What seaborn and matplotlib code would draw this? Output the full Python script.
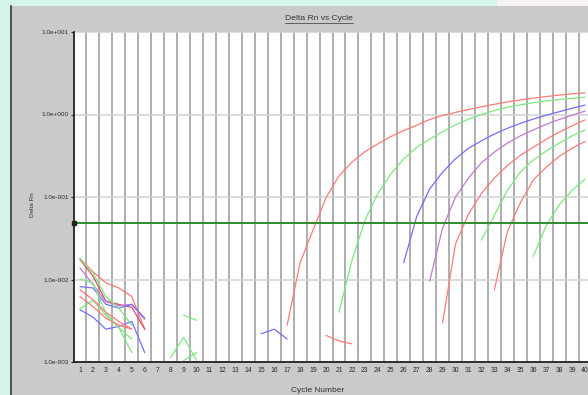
import matplotlib
matplotlib.use("Agg")
import numpy as np
import pandas as pd
import matplotlib.pyplot as plt
import seaborn as sns
from matplotlib.patches import Rectangle
from matplotlib.lines import Line2D

# ---------------- data ----------------
title = "Delta Rn vs Cycle"
x_label = "Cycle Number"
y_label = "Delta Rn"
cycles_axis = list(range(1, 41))
y_ticks = [1e-3, 1e-2, 1e-1, 1e0, 1e1]
y_tick_labels = ["1.0e-003", "1.0e-002", "1.0e-001", "1.0e+000", "1.0e+001"]
threshold = 0.049

# amplification curves
amp_a_cycles = list(range(17, 41))
amp_a = [0.0028, 0.016, 0.040, 0.098, 0.18, 0.265, 0.355, 0.44, 0.54, 0.64, 0.74, 0.87,
         0.97, 1.06, 1.15, 1.24, 1.33, 1.42, 1.50, 1.58, 1.65, 1.72, 1.78, 1.83]
amp_b_cycles = list(range(21, 41))
amp_b = [0.004, 0.017, 0.052, 0.11, 0.19, 0.29, 0.40, 0.50, 0.62, 0.75, 0.88, 1.00,
         1.12, 1.22, 1.31, 1.39, 1.46, 1.52, 1.57, 1.62]
amp_c_cycles = list(range(26, 41))
amp_c = [0.016, 0.058, 0.125, 0.20, 0.29, 0.39, 0.48, 0.58, 0.68, 0.78, 0.88, 0.98,
         1.08, 1.19, 1.30]
amp_d_cycles = list(range(28, 41))
amp_d = [0.0095, 0.042, 0.10, 0.17, 0.26, 0.35, 0.45, 0.55, 0.65, 0.76, 0.87, 0.98, 1.10]
amp_e_cycles = list(range(29, 41))
amp_e = [0.003, 0.027, 0.062, 0.11, 0.17, 0.24, 0.32, 0.40, 0.50, 0.61, 0.73, 0.86]
amp_f_cycles = list(range(32, 41))
amp_f = [0.03, 0.06, 0.12, 0.20, 0.28, 0.36, 0.45, 0.55, 0.65]
amp_g_cycles = list(range(33, 41))
amp_g = [0.0075, 0.038, 0.085, 0.16, 0.23, 0.31, 0.39, 0.47]
amp_h_cycles = list(range(36, 41))
amp_h = [0.019, 0.045, 0.08, 0.12, 0.165]

# baseline noise fragments
noise_1_cycles = [1, 2, 3, 4, 5, 6]
noise_1 = [0.018, 0.0124, 0.0091, 0.0079, 0.0062, 0.0025]
noise_2_cycles = [1, 2, 3, 4, 5, 6]
noise_2 = [0.0175, 0.011, 0.0055, 0.005, 0.0046, 0.0025]
noise_3_cycles = [1, 2, 3, 4, 5, 6]
noise_3 = [0.0138, 0.0087, 0.0054, 0.0048, 0.0050, 0.0033]
noise_4_cycles = [1, 2, 3, 4, 5, 6]
noise_4 = [0.0082, 0.0079, 0.0050, 0.0045, 0.0050, 0.0034]
noise_5_cycles = [1, 2, 3, 4, 5, 6]
noise_5 = [0.0043, 0.0035, 0.0025, 0.0027, 0.0031, 0.0013]
noise_6_cycles = [1, 2, 3, 4, 5]
noise_6 = [0.0044, 0.0056, 0.0037, 0.0026, 0.0019]
noise_7_cycles = [1, 2, 3, 4, 5]
noise_7 = [0.0102, 0.0091, 0.0039, 0.0026, 0.0013]
noise_8_cycles = [1, 2, 3, 4, 5]
noise_8 = [0.018, 0.012, 0.0062, 0.0045, 0.0028]
noise_9_cycles = [1, 2, 3, 4, 5]
noise_9 = [0.0075, 0.0057, 0.0040, 0.0031, 0.0025]
noise_10_cycles = [1, 2, 3, 4, 5]
noise_10 = [0.0062, 0.0047, 0.0034, 0.0028, 0.0025]
noise_11_cycles = [8, 9, 10]
noise_11 = [0.00113, 0.0020, 0.00105]
noise_12_cycles = [9, 10]
noise_12 = [0.0037, 0.0032]
noise_13_cycles = [9, 10]
noise_13 = [0.00104, 0.0013]
noise_14_cycles = [15, 16, 17]
noise_14 = [0.0022, 0.0025, 0.0019]
noise_15_cycles = [20, 21, 22]
noise_15 = [0.0021, 0.0018, 0.00166]

RED, GREEN, BLUE, PURPLE = "#ff7a7a", "#7de87d", "#7070ff", "#c07ad0"
series = [
    ("A", amp_a_cycles, amp_a, RED), ("B", amp_b_cycles, amp_b, GREEN),
    ("C", amp_c_cycles, amp_c, BLUE), ("D", amp_d_cycles, amp_d, PURPLE),
    ("E", amp_e_cycles, amp_e, RED), ("F", amp_f_cycles, amp_f, GREEN),
    ("G", amp_g_cycles, amp_g, RED), ("H", amp_h_cycles, amp_h, GREEN),
    ("n1", noise_1_cycles, noise_1, RED), ("n2", noise_2_cycles, noise_2, "#e0506a"),
    ("n3", noise_3_cycles, noise_3, PURPLE), ("n4", noise_4_cycles, noise_4, BLUE),
    ("n5", noise_5_cycles, noise_5, BLUE), ("n6", noise_6_cycles, noise_6, GREEN),
    ("n7", noise_7_cycles, noise_7, GREEN), ("n8", noise_8_cycles, noise_8, GREEN),
    ("n9", noise_9_cycles, noise_9, RED), ("n10", noise_10_cycles, noise_10, RED),
    ("n11", noise_11_cycles, noise_11, GREEN), ("n12", noise_12_cycles, noise_12, GREEN),
    ("n13", noise_13_cycles, noise_13, GREEN), ("n14", noise_14_cycles, noise_14, BLUE),
    ("n15", noise_15_cycles, noise_15, RED),
]

rows = []
for name, cs, vs, _ in series:
    for c, v in zip(cs, vs):
        rows.append({"well": name, "cycle": c, "rn": v})
df = pd.DataFrame(rows)
palette = {name: col for name, _, _, col in series}

# ---------------- figure ----------------
sns.set_style("white")
plt.rcParams["font.family"] = ["Liberation Sans", "DejaVu Sans"]

W, H = 588, 395
fig = plt.figure(figsize=(W / 100, H / 100), dpi=100)
fig.patch.set_facecolor("#d5f5ea")

# grey panel and border
fig.add_artist(Rectangle((11 / W, 0), 1, 1 - 6 / H, transform=fig.transFigure,
                         facecolor="#cacaca", edgecolor="none", zorder=0))
fig.add_artist(Rectangle((497 / W, 1 - 6 / H), 1, 6 / H, transform=fig.transFigure,
                         facecolor="#f7f3f3", edgecolor="none", zorder=0))
fig.add_artist(Line2D([11 / W, 11 / W], [0, 1 - 6 / H], transform=fig.transFigure,
                      color="#555555", lw=1.5, zorder=1))

ax = fig.add_axes([73.5 / W, (H - 362) / H, (591.5 - 73.5) / W, (362 - 32) / H])
ax.set_facecolor("white")

sns.lineplot(data=df, x="cycle", y="rn", hue="well", palette=palette, units="well",
             estimator=None, sort=False, legend=False, lw=0.9, ax=ax, zorder=3)

ax.axhline(threshold, color="#2e8b2e", lw=1.4, zorder=4)
ax.plot([0.55], [threshold], marker="s", ms=2.2, color="#222222", zorder=5, clip_on=False)

ax.set_yscale("log")
ax.set_xlim(0.5, 40.5)
ax.set_ylim(1e-3, 1e1)
ax.set_yticks(y_ticks)
ax.set_yticklabels(y_tick_labels)
ax.yaxis.set_minor_locator(matplotlib.ticker.NullLocator())
ax.set_xticks(cycles_axis)
ax.set_xticklabels([str(c) for c in cycles_axis])

# grid
for c in cycles_axis[:-1]:
    ax.axvline(c + 0.5, color="#a8a8a8", lw=1.3, zorder=1)
for t in y_ticks:
    ax.axhline(t, color="#d2d2d2", lw=1.1, zorder=1)

ax.tick_params(axis="x", length=0, pad=3.5, labelsize=4.9, colors="#2a2a2a")
ax.tick_params(axis="y", length=2, width=0.8, pad=1.5, labelsize=4.6, colors="#2a2a2a",
               left=True)
for side in ["top", "right"]:
    ax.spines[side].set_visible(False)
ax.spines["left"].set_color("#222222")
ax.spines["left"].set_linewidth(1.3)
ax.spines["bottom"].set_color("#222222")
ax.spines["bottom"].set_linewidth(1.3)
ax.set_xlabel("")
ax.set_ylabel("")

fig.text(318 / W, 1 - 391 / H, x_label, ha="center", va="center", fontsize=6, color="#333333")
fig.text(32 / W, 1 - 205 / H, y_label, ha="center", va="center", rotation=90,
         fontsize=4.6, color="#333333")
ttl = fig.text(319 / W, 1 - 19 / H, title, ha="center", va="center", fontsize=6.1,
               color="#333333")

fig.canvas.draw()
bb = ttl.get_window_extent()
uy = (bb.y0 - 0.5) / H
fig.add_artist(Line2D([bb.x0 / W, bb.x1 / W], [uy, uy], transform=fig.transFigure,
                      color="#333333", lw=0.5))

fig.savefig("out.png", dpi=100, facecolor=fig.get_facecolor())
